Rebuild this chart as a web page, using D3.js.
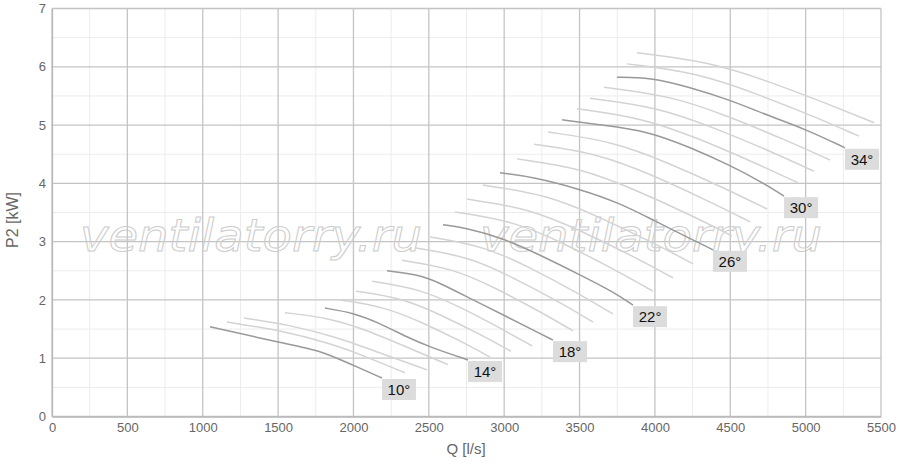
<!DOCTYPE html>
<html><head><meta charset="utf-8">
<script src="https://cdn.jsdelivr.net/npm/d3@7"></script>
<style>body{margin:0;background:#fff}svg{display:block}</style>
</head><body><svg id="c" width="900" height="465"></svg>
<script>
// Tick values
const xTicks = [0,500,1000,1500,2000,2500,3000,3500,4000,4500,5000,5500];
const yTicks = [0,1,2,3,4,5,6,7];
const xMinor = [250,750,1250,1750,2250,2750,3250,3750,4250,4750,5250];
const yMinor = [0.5,1.5,2.5,3.5,4.5,5.5,6.5];

// Blade-angle curves: [Q l/s, P2 kW]
const s10 = [[1048,1.54],[1493,1.28],[1758,1.14],[1891,1.00],[2043,0.83],[2189,0.66]];
const s11 = [[1161,1.62],[1513,1.48],[1844,1.26],[2090,1.02],[2342,0.75]];
const s12 = [[1274,1.69],[1579,1.57],[1891,1.36],[2176,1.09],[2488,0.80]];
const s13 = [[1546,1.78],[1844,1.69],[2090,1.48],[2355,1.19],[2627,0.89]];
const s14 = [[1811,1.86],[1997,1.78],[2176,1.60],[2355,1.36],[2508,1.19],[2760,0.97]];
const s15 = [[1911,2.00],[2209,1.88],[2458,1.61],[2707,1.30],[2906,1.02]];
const s16 = [[2017,2.15],[2325,2.03],[2583,1.74],[2840,1.41],[3045,1.12]];
const s17 = [[2123,2.32],[2441,2.19],[2707,1.88],[2972,1.52],[3185,1.21]];
const s18 = [[2223,2.50],[2441,2.43],[2574,2.29],[2793,2.00],[3019,1.71],[3218,1.45],[3324,1.31]];
const s19 = [[2322,2.68],[2662,2.54],[2946,2.20],[3230,1.81],[3457,1.47]];
const s20 = [[2415,2.89],[2767,2.74],[3061,2.38],[3354,1.98],[3590,1.62]];
const s21 = [[2508,3.08],[2872,2.92],[3176,2.55],[3479,2.13],[3722,1.76]];
const s22 = [[2594,3.29],[2753,3.23],[2992,3.06],[3238,2.77],[3503,2.43],[3722,2.14],[3855,1.91]];
const s23 = [[2674,3.51],[3068,3.35],[3396,2.97],[3725,2.53],[3987,2.15]];
const s24 = [[2753,3.73],[3163,3.57],[3505,3.19],[3847,2.76],[4120,2.38]];
const s25 = [[2859,3.97],[3277,3.81],[3626,3.43],[3974,3.00],[4253,2.62]];
const s26 = [[2972,4.18],[3191,4.11],[3503,3.90],[3768,3.66],[3987,3.37],[4213,3.08],[4385,2.86]];
const s27 = [[3085,4.42],[3513,4.26],[3870,3.89],[4226,3.47],[4511,3.10]];
const s28 = [[3198,4.67],[3628,4.51],[3986,4.14],[4344,3.71],[4631,3.34]];
const s29 = [[3291,4.88],[3727,4.72],[4090,4.35],[4453,3.93],[4744,3.56]];
const s30 = [[3384,5.09],[3656,5.00],[3947,4.90],[4233,4.62],[4498,4.31],[4717,4.01],[4857,3.78]];
const s31 = [[3483,5.28],[3923,5.12],[4290,4.77],[4656,4.36],[4949,4.01]];
const s32 = [[3569,5.46],[4015,5.31],[4387,4.96],[4758,4.56],[5055,4.21]];
const s33 = [[3662,5.65],[4112,5.50],[4487,5.15],[4862,4.75],[5162,4.40]];
const s34 = [[3748,5.82],[3967,5.82],[4233,5.65],[4498,5.43],[4744,5.17],[5009,4.92],[5261,4.61]];
const s35 = [[3814,6.05],[4277,5.90],[4661,5.55],[5046,5.16],[5354,4.81]];
const s36 = [[3881,6.24],[4353,6.09],[4746,5.76],[5139,5.37],[5454,5.04]];

const angles = [10,11,12,13,14,15,16,17,18,19,20,21,22,23,24,25,26,27,28,29,30,31,32,33,34,35,36];
const labelAngles = [10,14,18,22,26,30,34];
const seriesList = [s10,s11,s12,s13,s14,s15,s16,s17,s18,s19,s20,s21,s22,s23,s24,s25,s26,s27,s28,s29,s30,s31,s32,s33,s34,s35,s36];

const svg = d3.select("#c");
const x = d3.scaleLinear().domain([0,5500]).range([52,881]);
const y = d3.scaleLinear().domain([0,7]).range([416.5,8.5]);
const font = "'Liberation Sans', Arial, sans-serif";

// minor grid
svg.append("g").selectAll("line").data(xMinor).join("line")
  .attr("x1",d=>x(d)).attr("x2",d=>x(d)).attr("y1",y(0)).attr("y2",y(7))
  .attr("stroke","#ececec").attr("stroke-width",1);
svg.append("g").selectAll("line").data(yMinor).join("line")
  .attr("x1",x(0)).attr("x2",x(5500)).attr("y1",d=>y(d)).attr("y2",d=>y(d))
  .attr("stroke","#ececec").attr("stroke-width",1);
// major grid
svg.append("g").selectAll("line").data(xTicks).join("line")
  .attr("x1",d=>x(d)).attr("x2",d=>x(d)).attr("y1",y(0)).attr("y2",y(7))
  .attr("stroke","#c4c4c4").attr("stroke-width",1.3);
svg.append("g").selectAll("line").data(yTicks).join("line")
  .attr("x1",x(0)).attr("x2",x(5500)).attr("y1",d=>y(d)).attr("y2",d=>y(d))
  .attr("stroke","#c4c4c4").attr("stroke-width",1.3);

// axes labels via d3 axes
const gx = svg.append("g").attr("transform",`translate(0,${y(0)})`)
  .call(d3.axisBottom(x).tickValues(xTicks).tickSize(0).tickPadding(6).tickFormat(d3.format("d")));
const gy = svg.append("g").attr("transform",`translate(${x(0)},0)`)
  .call(d3.axisLeft(y).tickValues(yTicks).tickSize(0).tickPadding(6).tickFormat(d3.format("d")));
[gx,gy].forEach(g=>{
  g.select(".domain").attr("stroke","#b8b8b8").attr("stroke-width",1.3);
  g.selectAll("text").attr("fill","#666").style("font-family",font).style("font-size","13px");
});

svg.append("text").attr("x",466).attr("y",454).attr("text-anchor","middle")
  .style("font-family",font).style("font-size","15px").attr("fill","#666").text("Q [l/s]");
svg.append("text").attr("transform","translate(18,220) rotate(-90)").attr("text-anchor","middle")
  .style("font-family",font).style("font-size","16px").attr("fill","#666").text("P2 [kW]");

// watermark
[80,480].forEach(wx=>{
  svg.append("text").attr("x",wx).attr("y",251)
    .attr("textLength",342).attr("lengthAdjust","spacingAndGlyphs")
    .style("font-family","'DejaVu Sans', Verdana, sans-serif").style("font-style","italic")
    .style("font-size","45px").attr("fill","none").attr("stroke","#cccccc").attr("stroke-width",1)
    .text("ventilatorry.ru");
});

// curves
const line = d3.line().x(d=>x(d[0])).y(d=>y(d[1])).curve(d3.curveBasis);
const order = angles.map((a,i)=>i).sort((i,j)=>(labelAngles.includes(angles[i])?1:0)-(labelAngles.includes(angles[j])?1:0));
svg.append("g").selectAll("path").data(order).join("path")
  .attr("d",i=>line(seriesList[i])).attr("fill","none")
  .attr("stroke",i=>labelAngles.includes(angles[i])?"#999":"#d3d3d3")
  .attr("stroke-width",1.5);

// labels
const lg = svg.append("g").selectAll("g").data(labelAngles).join("g")
  .attr("transform",a=>{const s=seriesList[angles.indexOf(a)]; const e=s[s.length-1]; return `translate(${x(e[0])},${y(e[1])+1})`;});
lg.append("rect").attr("width",34).attr("height",21).attr("fill","#dcdcdc");
lg.append("text").attr("x",17).attr("y",16).attr("text-anchor","middle")
  .style("font-family",font).style("font-size","15px").attr("fill","#111").text(a=>a+"°");
</script></body></html>
